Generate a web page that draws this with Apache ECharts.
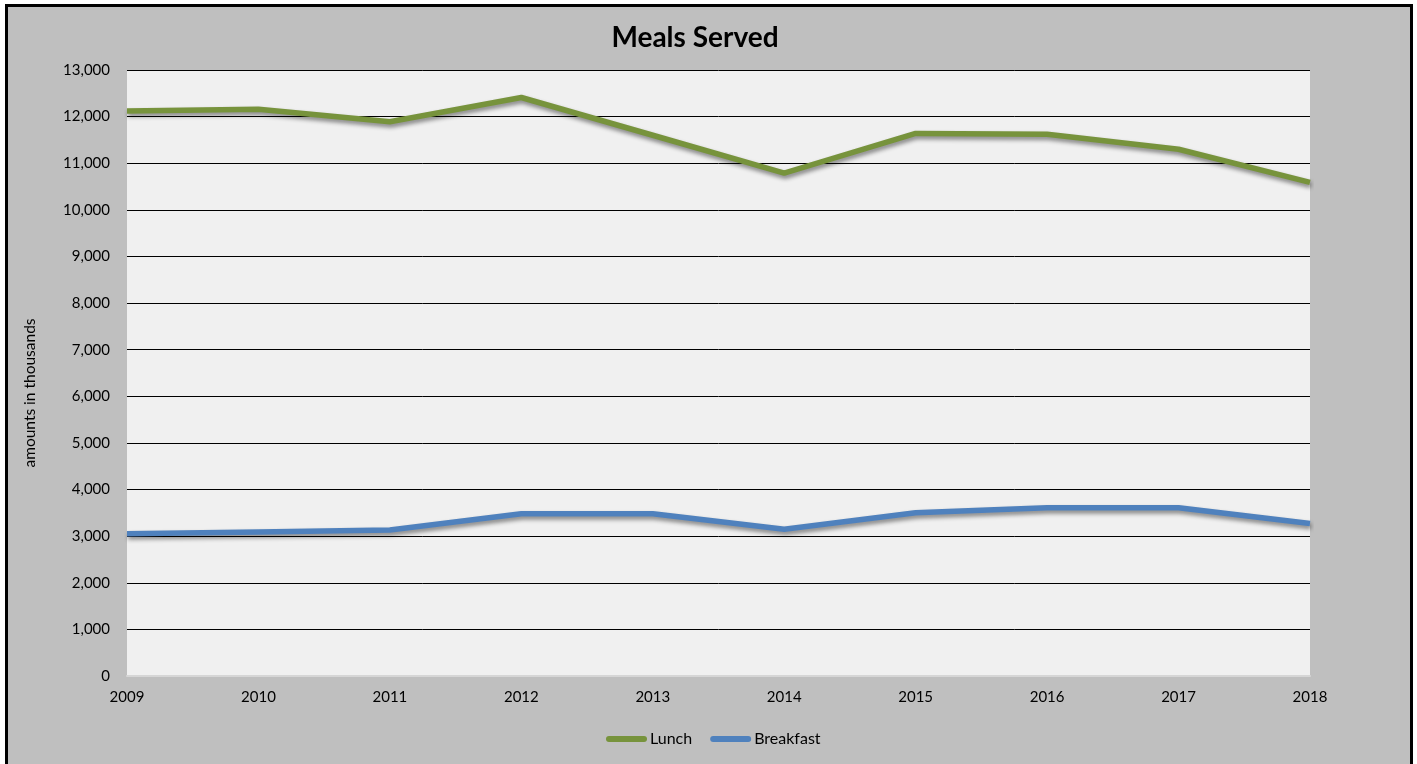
<!DOCTYPE html>
<html>
<head>
<meta charset="utf-8">
<title>Meals Served</title>
<script src="https://cdn.jsdelivr.net/npm/echarts@6/dist/echarts.min.js"></script>
<style>
  html, body { margin: 0; padding: 0; background: #ffffff; overflow: hidden; }
  #frame {
    position: absolute; left: 5px; top: 4px; width: 1408px; height: 800px;
    box-sizing: border-box; border: 3px solid #000; background: #BFBFBF;
  }
  #chart { position: absolute; left: 0; top: 0; width: 1417px; height: 764px; }
</style>
</head>
<body>
<div id="frame"></div>
<div id="chart"></div>
<script>
// Meals served per year, amounts in thousands
const years = ['2009', '2010', '2011', '2012', '2013', '2014', '2015', '2016', '2017', '2018'];
const lunch = [12120, 12160, 11890, 12410, 11600, 10790, 11640, 11620, 11300, 10590];
const breakfast = [3050, 3090, 3130, 3480, 3480, 3150, 3500, 3610, 3610, 3270];

const FONT = 'Lato';
const chart = echarts.init(document.getElementById('chart'), null, { renderer: 'canvas' });

// gridlines: baseline light grey, the rest black
const gridColors = [];
for (let i = 0; i <= 13; i++) gridColors.push(i === 0 ? '#D6D6D6' : '#000000');

const legendIcon = 'path://M3,0 H38 A3,3 0 0 1 38,6 H3 A3,3 0 0 1 3,0 Z';

function lineSeries(name, data, color) {
  return {
    name: name,
    type: 'line',
    data: data,
    symbol: 'none',
    smooth: false,
    lineStyle: {
      color: color, width: 5.5,
      shadowColor: 'rgba(0,0,0,0.45)', shadowBlur: 4, shadowOffsetX: 1, shadowOffsetY: 3
    },
    itemStyle: { color: color },
    emphasis: { disabled: true }
  };
}

chart.setOption({
  backgroundColor: 'transparent',
  animation: false,
  textStyle: { fontFamily: FONT },
  title: {
    text: 'Meals Served',
    left: 690, top: 19, textAlign: 'center',
    textStyle: { fontFamily: FONT, fontWeight: 'bold', fontSize: 28, color: '#000' }
  },
  legend: {
    left: 601, top: 726,
    itemWidth: 41, itemHeight: 6, itemGap: 18,
    icon: legendIcon,
    textStyle: { fontFamily: FONT, fontSize: 16, color: '#000', padding: [0, 0, 0, -2] },
    data: ['Lunch', 'Breakfast']
  },
  grid: {
    left: 127, right: 107, top: 70, bottom: 88,
    show: true, backgroundColor: '#F0F0F0', borderWidth: 0
  },
  xAxis: {
    type: 'category',
    data: years,
    boundaryGap: false,
    axisLine: { show: true, lineStyle: { color: '#D6D6D6', width: 2 } },
    axisTick: { show: false },
    axisLabel: { fontFamily: FONT, fontSize: 15, color: '#000', margin: 14 },
    splitLine: { show: false }
  },
  yAxis: {
    type: 'value',
    min: 0, max: 13000, interval: 1000,
    axisLine: { show: false },
    axisTick: { show: false },
    axisLabel: {
      fontFamily: FONT, fontSize: 15, color: '#000', margin: 17,
      formatter: v => v.toLocaleString('en-US')
    },
    splitLine: { show: true, lineStyle: { color: gridColors, width: 1 } }
  },
  graphic: [{
    type: 'text',
    x: 30, y: 393,
    rotation: Math.PI / 2,
    style: {
      text: 'amounts in thousands',
      fontFamily: FONT, fontSize: 15.5, fill: '#000',
      textAlign: 'center', textVerticalAlign: 'middle'
    }
  }],
  series: [
    lineSeries('Lunch', lunch, '#77933C'),
    lineSeries('Breakfast', breakfast, '#4F81BD')
  ]
});
</script>
</body>
</html>
